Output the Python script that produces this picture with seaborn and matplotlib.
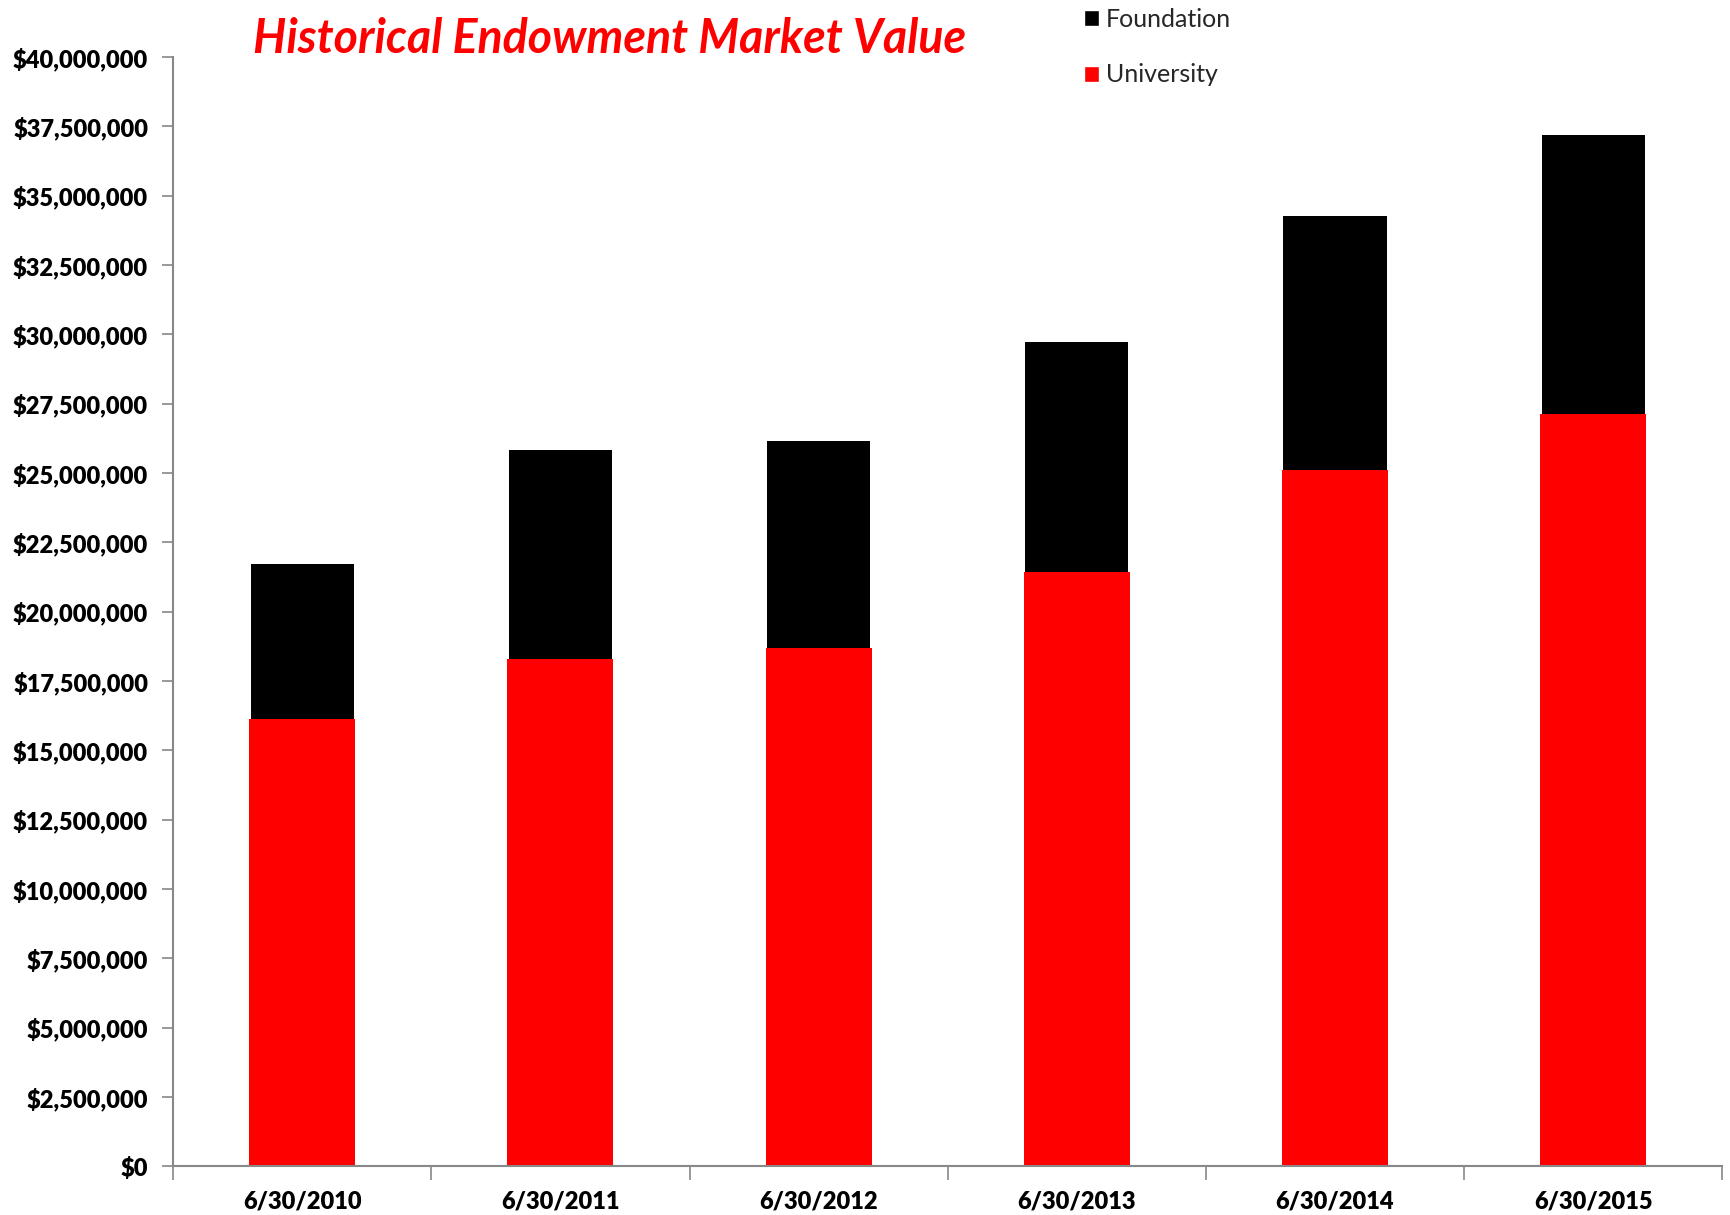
import numpy as np
import matplotlib
matplotlib.use("Agg")
import matplotlib.pyplot as plt
import seaborn as sns
import pandas as pd
from matplotlib.ticker import FuncFormatter, FixedLocator
from matplotlib.patches import Patch

# data
dates = ["6/30/2010", "6/30/2011", "6/30/2012", "6/30/2013", "6/30/2014", "6/30/2015"]
university = [16.14e6, 18.31e6, 18.69e6, 21.43e6, 25.10e6, 27.14e6]
foundation = [5.58e6, 7.51e6, 7.45e6, 8.31e6, 9.17e6, 10.04e6]

df = pd.DataFrame({"date": dates, "University": university, "Foundation": foundation})
df["Total"] = df["University"] + df["Foundation"]

sns.set_style("white")
plt.rcParams["font.family"] = ["Lato", "DejaVu Sans"]
plt.rcParams["font.weight"] = "heavy"

fig = plt.figure(figsize=(17.31, 12.15), dpi=100)
ax = fig.add_axes([0.100, 0.040, 0.895, 0.913])

sns.barplot(data=df, x="date", y="Total", color="black", width=0.40,
            saturation=1, linewidth=0, ax=ax)
sns.barplot(data=df, x="date", y="University", color="#ff0000", width=0.41,
            saturation=1, linewidth=0, ax=ax)

ax.set_xlim(-0.5, 5.5)
ax.set_ylim(0, 40e6)
ax.set_yticks(np.arange(0, 40e6 + 1, 2.5e6))
ax.yaxis.set_major_formatter(FuncFormatter(lambda v, p: "${:,.0f}".format(v)))
ax.set_xlabel("")
ax.set_ylabel("")

ax.tick_params(axis="y", length=8, width=1.2, color="#888888", pad=10, left=True,
               labelsize=17, labelcolor="black")
ax.tick_params(axis="x", which="major", length=0, pad=17, labelsize=17, labelcolor="black")
ax.xaxis.set_minor_locator(FixedLocator(np.arange(-0.5, 6, 1)))
ax.tick_params(axis="x", which="minor", length=10, width=1.2, color="#888888", bottom=True)

sns.despine(ax=ax)
for s in ["left", "bottom"]:
    ax.spines[s].set_color("#888888")
    ax.spines[s].set_linewidth(1.5)

fig.text(0.146, 0.968, "Historical Endowment Market Value", color="#ff0000",
         fontsize=33.5, fontweight="bold", fontstyle="italic", va="center", ha="left")

handles = [Patch(facecolor="black", label="Foundation"),
           Patch(facecolor="#ff0000", label="University")]
fig.legend(handles=handles, loc="upper left", bbox_to_anchor=(0.613, 1.012),
           frameon=False, handlelength=0.6, handleheight=0.6,
           handletextpad=0.3, labelspacing=1.3,
           prop={"family": ["Lato", "DejaVu Sans"], "size": 18, "weight": "normal"})

fig.savefig("out.png", dpi=100)
